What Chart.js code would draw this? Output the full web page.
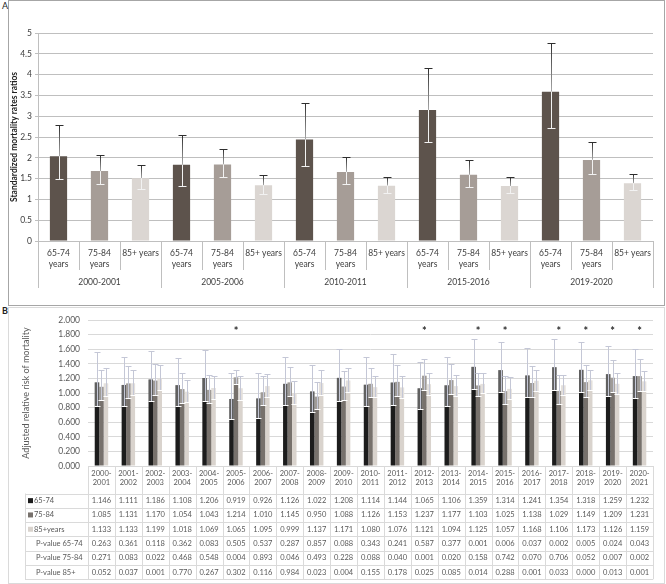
<!DOCTYPE html>
<html>
<head>
<meta charset="utf-8">
<script src="https://cdn.jsdelivr.net/npm/chart.js@4.4.1/dist/chart.umd.min.js"></script>
<style>
  body { margin: 0; width: 666px; height: 584px; background: #fff; position: relative; overflow: hidden; font-family: Lato, "Liberation Sans", sans-serif; }
  #boxA { position: absolute; left: 8px; top: 0; width: 655px; height: 304px; border: 1px solid #a6a6a6; box-sizing: content-box; }
  #boxB { position: absolute; left: 8px; top: 307px; width: 655px; height: 275px; border: 1px solid #dadada; }
  canvas { position: absolute; }
  #chartA { left: 8px; top: 0; }
  #chartB { left: 8px; top: 307px; }
  .tag { position: absolute; font-size: 9px; color: #222; }
</style>
</head>
<body>
<div id="boxA"></div>
<div id="boxB"></div>
<div class="tag" style="left:2px;top:0">A</div>
<div class="tag" style="left:2px;top:305px;font-weight:bold">B</div>
<canvas id="chartA" width="656" height="305"></canvas>
<canvas id="chartB" width="656" height="276"></canvas>
<script>
// ---- Panel A: standardized mortality rate ratios ----
const periodsA = ['2000-2001', '2005-2006', '2010-2011', '2015-2016', '2019-2020'];
const agesA = [['65-74', 'years'], ['75-84', 'years'], '85+ years'];
const colorsA = ['#5d534c', '#a69d97', '#dbd6d2'];

const smr6574 = [2.04, 1.83, 2.44, 3.15, 3.59];
const smr6574Lo = [1.48, 1.32, 1.80, 2.37, 2.71];
const smr6574Hi = [2.80, 2.56, 3.32, 4.17, 4.75];
const smr7584 = [1.68, 1.84, 1.66, 1.59, 1.95];
const smr7584Lo = [1.37, 1.53, 1.37, 1.29, 1.62];
const smr7584Hi = [2.07, 2.22, 2.01, 1.95, 2.39];
const smr85 = [1.51, 1.34, 1.33, 1.32, 1.39];
const smr85Lo = [1.24, 1.13, 1.15, 1.15, 1.23];
const smr85Hi = [1.82, 1.59, 1.55, 1.55, 1.60];

// ---- Panel B: adjusted relative risk by season ----
const periodsB = ['2000-2001', '2001-2002', '2002-2003', '2003-2004', '2004-2005', '2005-2006', '2006-2007',
  '2007-2008', '2008-2009', '2009-2010', '2010-2011', '2011-2012', '2012-2013', '2013-2014', '2014-2015',
  '2015-2016', '2016-2017', '2017-2018', '2018-2019', '2019-2020', '2020-2021'];

const rr6574 = [1.146, 1.111, 1.186, 1.108, 1.206, 0.919, 0.926, 1.126, 1.022, 1.208, 1.114, 1.144, 1.065, 1.106, 1.359, 1.314, 1.241, 1.354, 1.318, 1.259, 1.232];
const rr7584 = [1.085, 1.131, 1.170, 1.054, 1.043, 1.214, 1.010, 1.145, 0.950, 1.088, 1.126, 1.153, 1.237, 1.177, 1.103, 1.025, 1.138, 1.029, 1.149, 1.209, 1.231];
const rr85 = [1.133, 1.133, 1.199, 1.018, 1.069, 1.065, 1.095, 0.999, 1.137, 1.171, 1.080, 1.076, 1.121, 1.094, 1.125, 1.057, 1.168, 1.106, 1.173, 1.126, 1.159];

const rr6574Lo = [0.82, 0.82, 0.885, 0.82, 0.885, 0.65, 0.66, 0.84, 0.74, 0.89, 0.82, 0.84, 0.78, 0.82, 1.05, 1.01, 0.94, 1.04, 1.01, 0.96, 0.93];
const rr6574Hi = [1.56, 1.49, 1.57, 1.48, 1.59, 1.28, 1.28, 1.49, 1.39, 1.61, 1.49, 1.54, 1.43, 1.49, 1.74, 1.70, 1.62, 1.74, 1.70, 1.64, 1.61];
const rr7584Lo = [0.90, 0.93, 0.98, 0.87, 0.87, 1.12, 0.83, 0.96, 0.78, 0.91, 0.94, 0.96, 1.04, 0.99, 0.96, 0.85, 0.95, 0.85, 0.95, 1.01, 1.03];
const rr7584Hi = [1.31, 1.37, 1.40, 1.27, 1.25, 1.32, 1.23, 1.36, 1.15, 1.30, 1.35, 1.38, 1.47, 1.40, 1.27, 1.24, 1.37, 1.25, 1.39, 1.45, 1.47];
const rr85Lo = [0.96, 0.97, 1.04, 0.88, 0.92, 0.91, 0.95, 0.85, 0.98, 1.02, 0.94, 0.93, 0.98, 0.96, 1.00, 0.92, 1.03, 0.98, 1.04, 0.99, 1.03];
const rr85Hi = [1.34, 1.32, 1.38, 1.18, 1.24, 1.24, 1.26, 1.17, 1.32, 1.35, 1.24, 1.24, 1.28, 1.25, 1.27, 1.22, 1.32, 1.25, 1.32, 1.28, 1.30];

const pv6574 = [0.263, 0.361, 0.118, 0.362, 0.083, 0.505, 0.537, 0.287, 0.857, 0.088, 0.343, 0.241, 0.587, 0.377, 0.001, 0.006, 0.037, 0.002, 0.005, 0.024, 0.043];
const pv7584 = [0.271, 0.083, 0.022, 0.468, 0.548, 0.004, 0.893, 0.046, 0.493, 0.228, 0.088, 0.040, 0.001, 0.020, 0.158, 0.742, 0.070, 0.706, 0.052, 0.007, 0.002];
const pv85 = [0.052, 0.037, 0.001, 0.770, 0.267, 0.302, 0.116, 0.984, 0.023, 0.004, 0.155, 0.178, 0.025, 0.085, 0.014, 0.288, 0.001, 0.033, 0.000, 0.013, 0.001];

const starPeriods = ['2005-2006', '2012-2013', '2014-2015', '2015-2016', '2017-2018', '2018-2019', '2019-2020', '2020-2021'];
const starLevel = 1.87;

const seriesB = [
  { label: '65-74', color: '#1c1c1c', data: rr6574, lo: rr6574Lo, hi: rr6574Hi },
  { label: '75-84', color: '#77716c', data: rr7584, lo: rr7584Lo, hi: rr7584Hi },
  { label: '85+years', color: '#d9d3cd', data: rr85, lo: rr85Lo, hi: rr85Hi }
];
const pRows = [['P-value 65-74', pv6574], ['P-value 75-84', pv7584], ['P-value 85+', pv85]];

Chart.defaults.font.family = 'Lato, "Liberation Sans", sans-serif';
Chart.defaults.animation = false;

// flatten panel A into 15 bars
const labelsA = [], valsA = [], loA = [], hiA = [], barColorsA = [];
const srcA = [[smr6574, smr6574Lo, smr6574Hi], [smr7584, smr7584Lo, smr7584Hi], [smr85, smr85Lo, smr85Hi]];
periodsA.forEach((p, g) => {
  agesA.forEach((a, k) => {
    labelsA.push(a);
    valsA.push(srcA[k][0][g]);
    loA.push(srcA[k][1][g]);
    hiA.push(srcA[k][2][g]);
    barColorsA.push(colorsA[k]);
  });
});

const errorBarsA = {
  id: 'errorBarsA',
  afterDatasetsDraw(chart) {
    const { ctx, scales: { y } } = chart;
    ctx.save();
    ctx.lineWidth = 1;
    chart.getDatasetMeta(0).data.forEach((bar, i) => {
      const x = Math.round(bar.x) + 0.5;
      const top = bar.y;
      const yHi = Math.round(y.getPixelForValue(hiA[i])) + 0.5;
      const yLo = Math.round(y.getPixelForValue(loA[i])) + 0.5;
      const g = ctx.createLinearGradient(0, yHi, 0, top);
      g.addColorStop(0, '#2e2e2e');
      g.addColorStop(1, '#a8a8a8');
      ctx.strokeStyle = g;
      ctx.beginPath(); ctx.moveTo(x, yHi); ctx.lineTo(x, top); ctx.stroke();
      ctx.strokeStyle = '#2e2e2e';
      ctx.beginPath(); ctx.moveTo(x - 4, yHi); ctx.lineTo(x + 4, yHi); ctx.stroke();
      ctx.strokeStyle = '#f2f2f2';
      ctx.beginPath(); ctx.moveTo(x, top); ctx.lineTo(x, yLo); ctx.stroke();
      ctx.beginPath(); ctx.moveTo(x - 4, yLo); ctx.lineTo(x + 4, yLo); ctx.stroke();
    });
    ctx.restore();
  }
};

const groupAxisA = {
  id: 'groupAxisA',
  afterDraw(chart) {
    const { ctx, scales: { x } } = chart;
    const n = chart.data.labels.length;
    const step = (x.right - x.left) / n;
    ctx.save();
    ctx.strokeStyle = '#bfbfbf';
    ctx.lineWidth = 1;
    for (let i = 0; i <= n; i++) {
      const bx = Math.round(x.left + i * step) + 0.5;
      ctx.beginPath();
      ctx.moveTo(bx, x.top);
      ctx.lineTo(bx, x.top + (i % 3 === 0 ? 47 : 29));
      ctx.stroke();
    }
    ctx.fillStyle = '#404040';
    ctx.font = '8.5px Lato, "Liberation Sans", sans-serif';
    ctx.textAlign = 'center';
    ctx.textBaseline = 'middle';
    periodsA.forEach((p, g) => ctx.fillText(p, x.left + (g * 3 + 1.5) * step, x.top + 41));
    ctx.restore();
  }
};

new Chart(document.getElementById('chartA'), {
  type: 'bar',
  data: {
    labels: labelsA,
    datasets: [{ data: valsA, backgroundColor: barColorsA, barPercentage: 0.42, categoryPercentage: 1 }]
  },
  options: {
    responsive: false,
    layout: { padding: { top: 33, right: 11, bottom: 0, left: 0 } },
    plugins: { legend: { display: false }, tooltip: { enabled: false } },
    scales: {
      x: {
        grid: { display: false, drawTicks: false },
        border: { display: true, color: '#bfbfbf' },
        ticks: { color: '#404040', font: { size: 8.5, lineHeight: 1.3 }, maxRotation: 0, autoSkip: false, padding: 7 },
        afterFit: s => { s.height = 64; }
      },
      y: {
        min: 0, max: 5,
        ticks: { stepSize: 0.5, color: '#404040', font: { size: 8.5 }, padding: 3, callback: v => String(+v.toFixed(1)) },
        grid: { color: '#bfbfbf', tickLength: 3 },
        border: { display: true, color: '#bfbfbf' },
        title: { display: true, text: 'Standardized mortality rates ratios', color: '#222', font: { size: 8.5, weight: 'bold' }, padding: { top: 1, bottom: 0 } },
        afterFit: s => { s.width = 30; }
      }
    }
  },
  plugins: [errorBarsA, groupAxisA]
});

// ---- Panel B plugins ----
const errorBarsB = {
  id: 'errorBarsB',
  afterDatasetsDraw(chart) {
    const { ctx, scales: { y } } = chart;
    ctx.save();
    ctx.lineWidth = 1;
    seriesB.forEach((s, d) => {
      chart.getDatasetMeta(d).data.forEach((bar, i) => {
        const x = Math.round(bar.x) + 0.5;
        const half = bar.width / 2;
        const top = bar.y;
        const yHi = Math.round(y.getPixelForValue(s.hi[i])) + 0.5;
        const yLo = Math.round(y.getPixelForValue(s.lo[i])) + 0.5;
        ctx.fillStyle = 'rgba(255,255,255,0.3)';
        ctx.fillRect(bar.x - half, top, bar.width, yLo - top);
        ctx.strokeStyle = '#c4c7d6';
        ctx.beginPath(); ctx.moveTo(x, yHi); ctx.lineTo(x, yLo); ctx.stroke();
        ctx.beginPath(); ctx.moveTo(x - 3, yHi); ctx.lineTo(x + 3, yHi); ctx.stroke();
        ctx.strokeStyle = '#ffffff';
        ctx.beginPath(); ctx.moveTo(x - 3, yLo); ctx.lineTo(x + 3, yLo); ctx.stroke();
      });
    });
    ctx.fillStyle = '#2a2a2a';
    ctx.font = 'bold 11px Lato, "Liberation Sans", sans-serif';
    ctx.textAlign = 'center';
    ctx.textBaseline = 'middle';
    const xs = chart.scales.x;
    starPeriods.forEach(p => {
      const i = periodsB.indexOf(p);
      ctx.fillText('*', xs.getPixelForValue(i), y.getPixelForValue(starLevel) + 2);
    });
    ctx.restore();
  }
};

const dataTableB = {
  id: 'dataTableB',
  afterDraw(chart) {
    const { ctx, scales: { x } } = chart;
    const n = periodsB.length;
    const step = (x.right - x.left) / n;
    const rowH = 14.3;
    const top = x.top + 27.5;
    const bottom = top + rowH * 6;
    const tblLeft = 17;
    ctx.save();
    ctx.strokeStyle = '#dadada';
    ctx.lineWidth = 1;
    for (let r = 0; r <= 6; r++) {
      const yy = Math.round(top + r * rowH) + 0.5;
      ctx.beginPath(); ctx.moveTo(tblLeft, yy); ctx.lineTo(x.right, yy); ctx.stroke();
    }
    for (let i = 0; i <= n; i++) {
      const bx = Math.round(x.left + i * step) + 0.5;
      ctx.beginPath(); ctx.moveTo(bx, x.top); ctx.lineTo(bx, bottom); ctx.stroke();
    }
    ctx.beginPath(); ctx.moveTo(tblLeft + 0.5, top); ctx.lineTo(tblLeft + 0.5, bottom); ctx.stroke();

    ctx.font = '7.5px Lato, "Liberation Sans", sans-serif';
    ctx.textBaseline = 'middle';
    ctx.fillStyle = '#595959';
    const rows = seriesB.map(s => [s.label, s.data, s.color]).concat(pRows.map(r => [r[0], r[1], null]));
    rows.forEach((row, r) => {
      const cy = top + (r + 0.5) * rowH;
      ctx.textAlign = 'left';
      if (row[2]) {
        ctx.fillStyle = row[2];
        ctx.fillRect(tblLeft + 3, cy - 2.5, 5, 5);
        ctx.fillStyle = '#595959';
        ctx.fillText(row[0], tblLeft + 9, cy);
      } else {
        ctx.fillText(row[0], tblLeft + 11, cy);
      }
      ctx.textAlign = 'center';
      row[1].forEach((v, i) => ctx.fillText(v.toFixed(3), x.left + (i + 0.5) * step, cy));
    });
    ctx.restore();
  }
};

new Chart(document.getElementById('chartB'), {
  type: 'bar',
  data: {
    labels: periodsB.map(p => [p.slice(0, 5), p.slice(5)]),
    datasets: seriesB.map(s => ({ label: s.label, data: s.data, backgroundColor: s.color, barPercentage: 1, categoryPercentage: 0.5 }))
  },
  options: {
    responsive: false,
    layout: { padding: { top: 11, right: 11, bottom: 4, left: 0 } },
    plugins: { legend: { display: false }, tooltip: { enabled: false } },
    scales: {
      x: {
        grid: { display: false, drawTicks: false },
        border: { display: false },
        ticks: { color: '#595959', font: { size: 7.5, lineHeight: 1.25 }, maxRotation: 0, autoSkip: false, padding: 3 },
        afterFit: s => { s.height = 113; }
      },
      y: {
        min: 0, max: 2,
        ticks: { stepSize: 0.2, color: '#595959', font: { size: 8.5 }, padding: 8, callback: v => v.toFixed(3) },
        grid: { color: '#d9d9d9', drawTicks: false },
        border: { display: false },
        title: { display: true, text: 'Adjusted relative risk of mortality', color: '#595959', font: { size: 9 }, padding: { top: 13, bottom: 0 } },
        afterFit: s => { s.width = 80; }
      }
    }
  },
  plugins: [errorBarsB, dataTableB]
});
</script>
</body>
</html>
